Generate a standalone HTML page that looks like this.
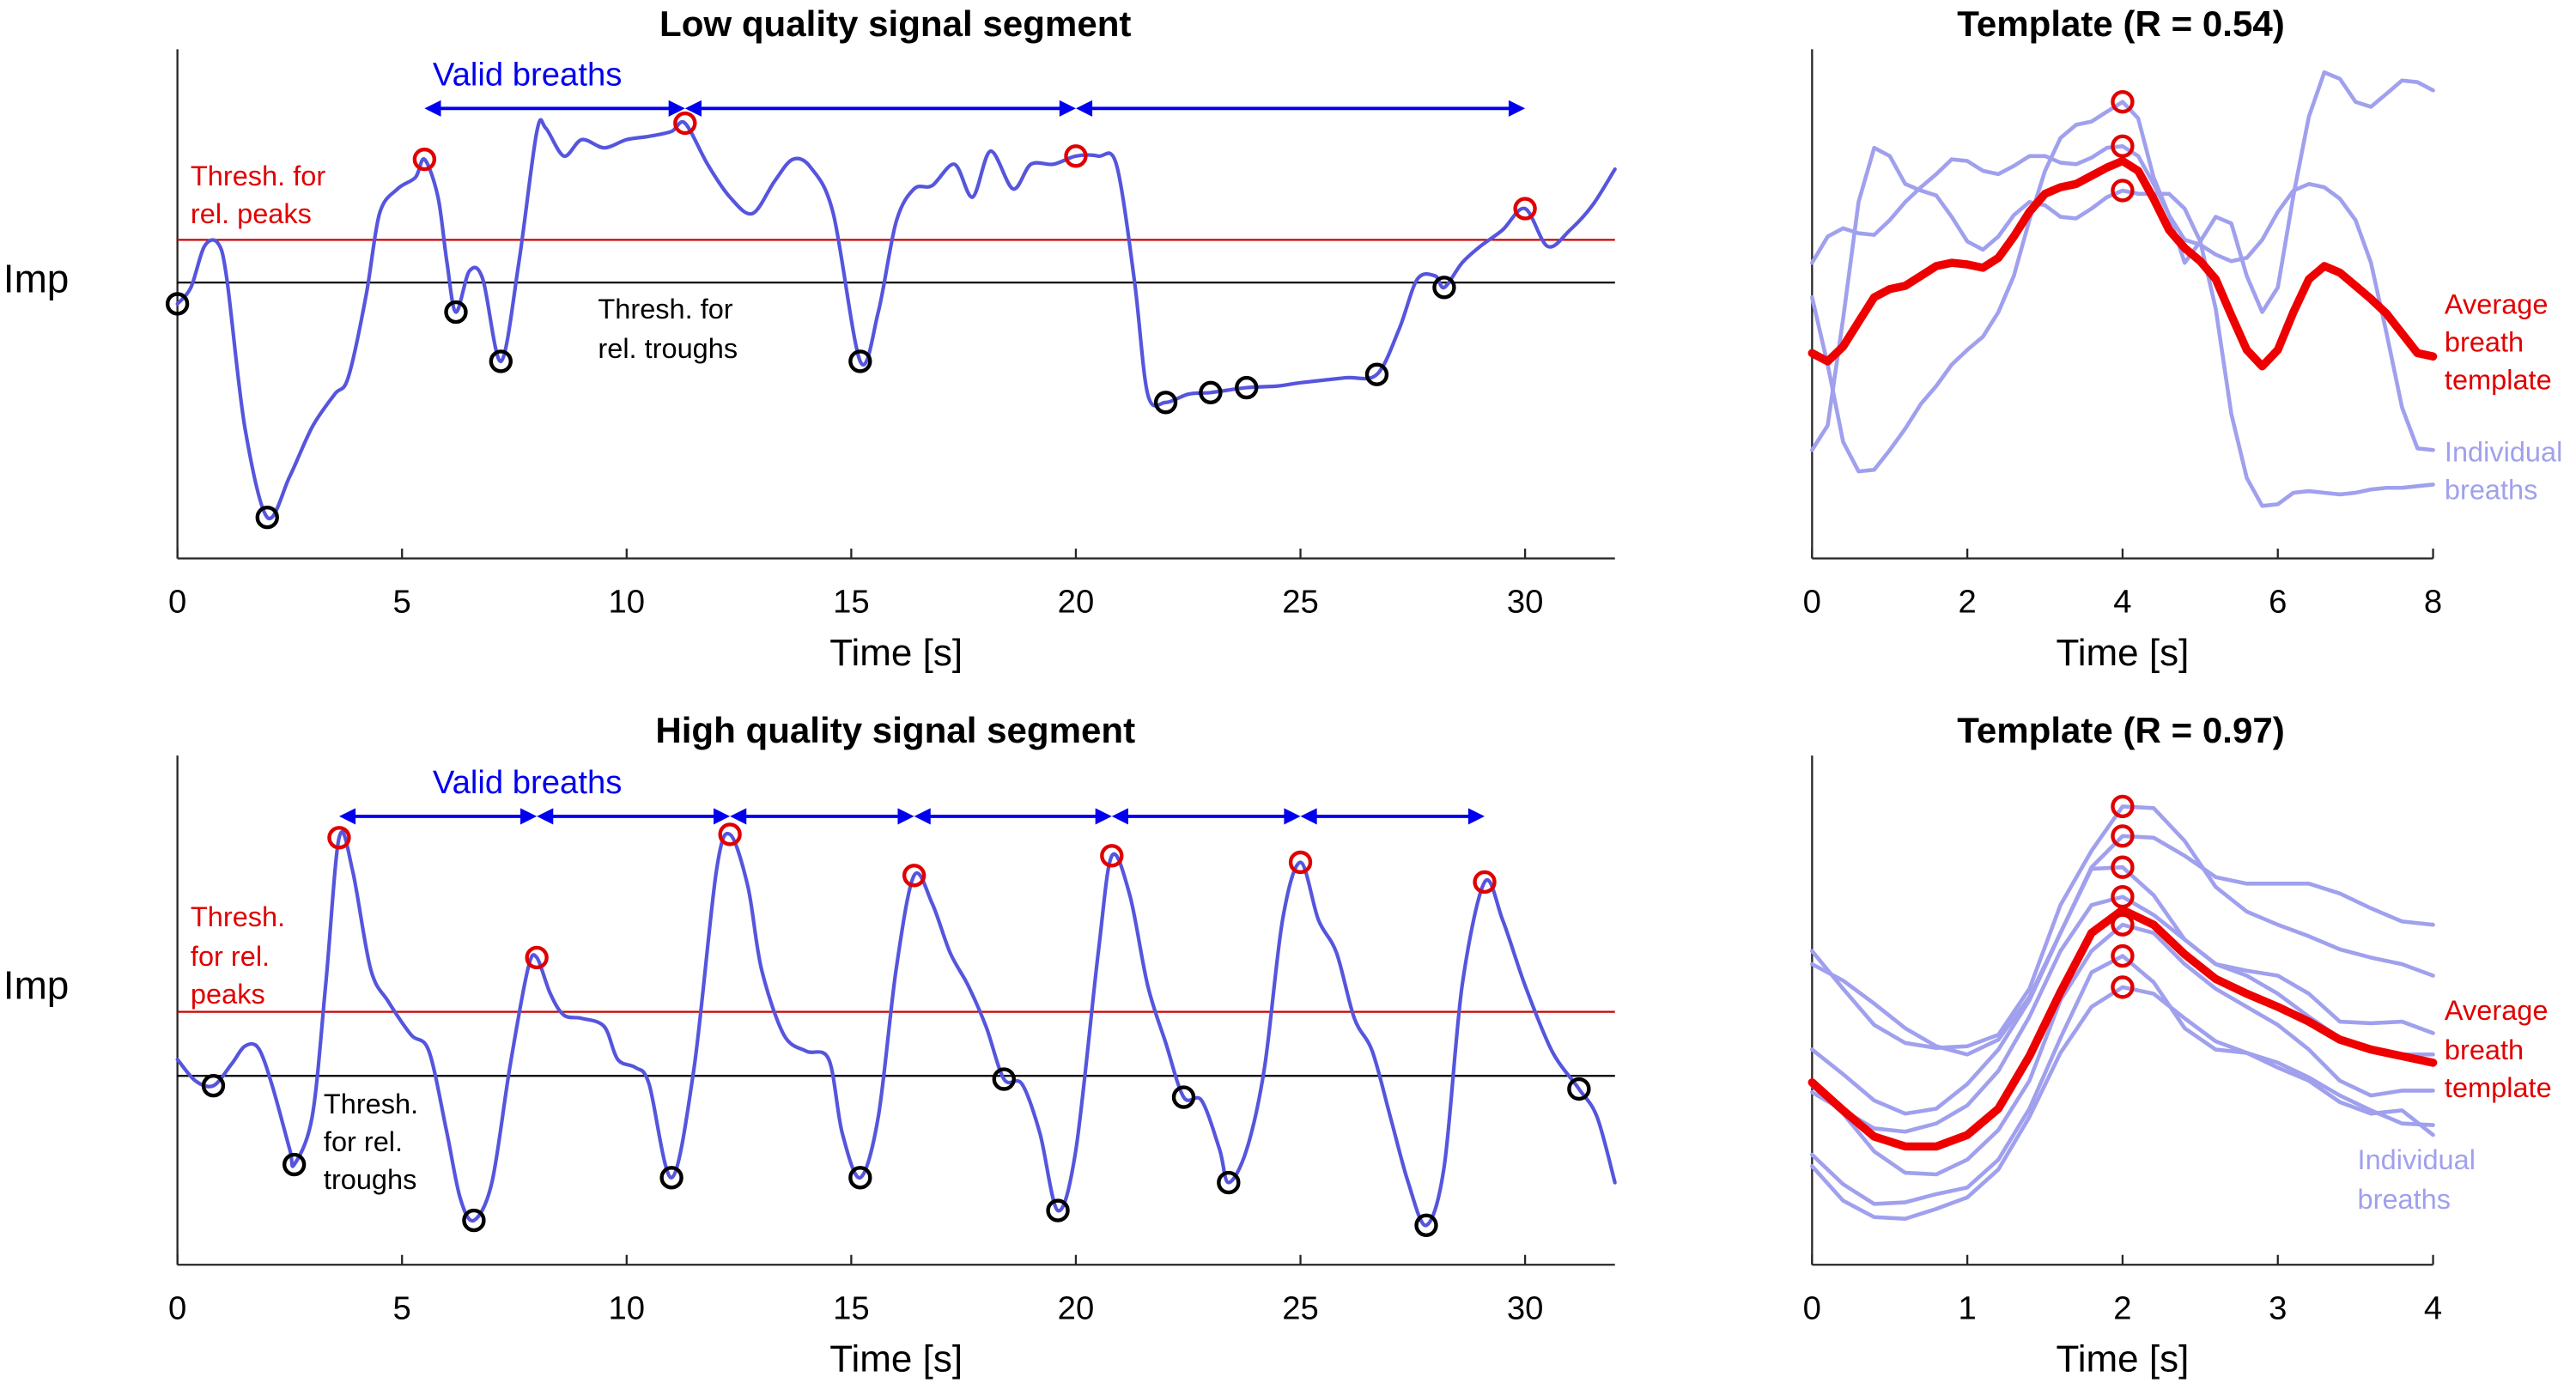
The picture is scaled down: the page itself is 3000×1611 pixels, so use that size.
<!DOCTYPE html>
<html><head><meta charset="utf-8">
<style>
html,body{margin:0;padding:0;background:#fff;}
svg{display:block;font-family:"Liberation Sans",Arial,sans-serif;}
</style></head>
<body>
<svg id="fig" width="3000" height="1611" viewBox="0 0 1568 842" xmlns="http://www.w3.org/2000/svg"></svg>
<script>
// ---------- DATA ----------
const lowT=[0,.3,.6,.9,1.1,1.5,2,2.5,3,3.5,3.8,4.2,4.5,4.9,5.3,5.5,5.8,6,6.2,6.5,6.8,7.2,7.6,8,8.2,8.6,9,9.5,10,10.5,11,11.3,11.8,12.3,12.8,13.3,13.7,14.1,14.6,15.2,15.6,16,16.4,16.8,17.3,17.7,18.1,18.6,19,19.5,20,20.5,20.9,21.3,21.6,22,22.5,23,23.8,24.5,25,26,26.7,27.2,27.6,28,28.2,28.6,29,29.5,30,30.5,31,31.5,32];
const lowV=[155,165,190,192,170,80,25,50,80,100,110,160,210,225,232,243,220,180,150,175,170,120,180,260,262,245,255,250,255,257,260,265,240,220,210,230,243,238,210,120,150,205,225,227,240,220,248,225,240,240,245,245,240,170,100,95,100,101,104,105,107,110,112,140,170,172,165,180,190,200,213,190,200,215,237];
const lowPeakT=[5.5,11.3,20,30];
const lowTroughT=[0,2,6.2,7.2,15.2,22,23,23.8,26.7,28.2];
const lowThrPeak=194, lowThrTrough=168;

const highT=[0,.4,.8,1.2,1.5,1.8,2.1,2.5,2.6,3,3.3,3.6,3.9,4.3,4.7,5.2,5.6,6,6.3,6.6,7,7.4,7.8,8,8.3,8.6,9,9.5,9.8,10.2,10.5,11,11.5,12,12.3,12.7,13,13.5,14,14.5,14.8,15.2,15.6,16,16.4,16.8,17.2,17.6,18,18.4,18.8,19.2,19.6,20,20.5,20.8,21.2,21.6,22,22.4,22.8,23.2,23.4,23.8,24.2,24.6,25,25.4,25.8,26.2,26.6,27,27.4,27.8,28.2,28.6,29.1,29.5,30,30.6,31.2,31.6,32];
const highV=[125,112,109,122,133,132,110,70,61,90,170,260,240,180,160,140,130,80,40,27,50,120,180,187,165,152,150,145,125,120,110,53,120,240,262,230,180,140,130,125,80,53,90,180,237,220,190,170,145,113,110,80,33,70,190,249,225,170,135,102,100,70,50,70,120,210,245,210,190,150,130,90,50,24,60,170,233,210,170,130,107,90,50];
const highPeakT=[3.6,8,12.3,16.4,20.8,25,29.1];
const highTroughT=[.8,2.6,6.6,11,15.2,18.4,19.6,22.4,23.4,27.8,31.2];
const highThrPeak=154, highThrTrough=115;

// Template, low quality (0..8 s, step 0.2)
const tplLowT=[0,.2,.4,.6,.8,1,1.2,1.4,1.6,1.8,2,2.2,2.4,2.6,2.8,3,3.2,3.4,3.6,3.8,4,4.2,4.4,4.6,4.8,5,5.2,5.4,5.6,5.8,6,6.2,6.4,6.6,6.8,7,7.2,7.4,7.6,7.8,8];
const tplLowAvg=[125,120,129,144,159,164,166,172,178,180,179,177,183,196,211,222,226,228,233,238,242,236,219,200,189,181,170,148,127,117,127,150,170,178,174,166,158,149,137,125,123];
const tplLowP=[159,118,71,53,54,66,79,94,105,118,127,135,150,172,206,236,256,264,266,272,278,268,232,209,180,193,208,204,172,150,165,221,269,296,292,278,275,283,291,290,285];
const tplLowQ=[66,81,146,217,250,245,228,224,221,208,193,188,196,209,217,215,208,207,213,220,224,222,222,222,213,193,152,88,49,32,33,40,41,40,39,40,42,43,43,44,45];
const tplLowR=[180,196,201,198,197,206,217,226,234,243,242,236,234,239,245,245,241,240,244,250,251,245,228,209,194,191,185,181,183,194,211,224,228,226,219,206,180,137,92,67,66];
const tplLowPeakT=4;

// Template, high quality (0..4 s, step 0.2)
const tplHighT=[0,.2,.4,.6,.8,1,1.2,1.4,1.6,1.8,2,2.2,2.4,2.6,2.8,3,3.2,3.4,3.6,3.8,4];
const tplHighAvg=[111,94,78,72,72,79,95,127,166,202,216,207,189,174,165,157,148,137,131,127,123];
const tplHigh1=[191,168,146,135,132,133,140,168,219,252,279,278,258,230,215,207,200,192,187,183,176];
const tplHigh2=[183,173,159,144,133,128,137,163,202,242,261,260,249,236,232,232,232,226,217,209,207];
const tplHigh3=[131,116,100,92,95,110,131,161,202,241,242,225,198,183,179,176,165,148,147,148,141];
const tplHigh4=[105,94,83,81,86,97,118,151,191,219,224,213,198,183,176,165,151,138,131,128,128];
const tplHigh5=[109,92,69,56,55,64,82,112,161,191,207,202,183,168,157,146,131,112,103,106,106];
const tplHigh6=[67,49,37,38,43,47,64,95,138,178,188,172,144,131,129,123,114,103,94,86,85];
const tplHigh7=[60,39,29,28,34,41,58,90,129,157,169,165,150,136,129,120,112,99,92,94,79];
const tplHighPeakT=2;

const xTicksMain=[0,5,10,15,20,25,30];
const xTicksTplLow=[0,2,4,6,8];
const xTicksTplHigh=[0,1,2,3,4];

// ---------- DRAW ----------
const NS="http://www.w3.org/2000/svg";
const svg=document.getElementById('fig');
function mk(tag,attrs,parent){const e=document.createElementNS(NS,tag);for(const k in attrs)e.setAttribute(k,attrs[k]);(parent||svg).appendChild(e);return e;}
function lin(d0,d1,r0,r1){return v=>r0+(v-d0)*(r1-r0)/(d1-d0);}
function valAt(T,V,t){for(let i=0;i<T.length-1;i++){if(t>=T[i]&&t<=T[i+1]){const f=(t-T[i])/(T[i+1]-T[i]);return V[i]+f*(V[i+1]-V[i]);}}return V[V.length-1];}
function txt(x,y,s,size,opt){opt=opt||{};const e=mk('text',{x:x,y:y,'font-size':size,fill:opt.fill||'#000','text-anchor':opt.anchor||'middle','font-weight':opt.bold?'bold':'normal'});e.textContent=s;return e;}

function axes(x0,x1,y0,y1,ticks,xs,name){
  const g=mk('g',{});
  
  
  mk('line',{x1:x0,y1:y0,x2:x0,y2:y1,stroke:'#262626','stroke-width':1.2},g);
  mk('line',{x1:x0,y1:y1,x2:x1,y2:y1,stroke:'#262626','stroke-width':1.2},g);
  ticks.forEach(t=>{const x=xs(t);mk('line',{x1:x,y1:y1,x2:x,y2:y1-6,stroke:'#262626','stroke-width':1.2},g);
    const l=txt(x,y1+33,String(t),20);
    
    });
  const xt=txt((x0+x1)/2,y1+65,'Time [s]',23);
  
  
}
function path(T,V,xs,ys,color,w,name,smooth){
  const P=T.map((t,i)=>[xs(t),ys(V[i])]);
  let d='M'+P[0][0].toFixed(1)+','+P[0][1].toFixed(1);
  for(let i=0;i<P.length-1;i++){
    if(smooth){
      const p0=P[Math.max(0,i-1)],p1=P[i],p2=P[i+1],p3=P[Math.min(P.length-1,i+2)];
      const k=0.16;
      const c1=[p1[0]+(p2[0]-p0[0])*k,p1[1]+(p2[1]-p0[1])*k];
      const c2=[p2[0]-(p3[0]-p1[0])*k,p2[1]-(p3[1]-p1[1])*k];
      d+='C'+c1[0].toFixed(1)+','+c1[1].toFixed(1)+' '+c2[0].toFixed(1)+','+c2[1].toFixed(1)+' '+p2[0].toFixed(1)+','+p2[1].toFixed(1);
    } else d+='L'+P[i+1][0].toFixed(1)+','+P[i+1][1].toFixed(1);
  }
  const p=mk('path',{d:d,fill:'none',stroke:color,'stroke-width':w,'stroke-linejoin':'round','stroke-linecap':'round'});
  
  
  return p;
}
function circ(x,y,color,name){const c=mk('circle',{cx:x,cy:y,r:6,fill:'none',stroke:color,'stroke-width':2.3});
  
  }
function arrow(xa,xb,y){const g=mk('g',{});
  
  
  const c='#0000ee';
  mk('line',{x1:xa+2,y1:y,x2:xb-2,y2:y,stroke:c,'stroke-width':2},g);
  mk('path',{d:`M${xa},${y}l10,-5v10z`,fill:c},g);
  mk('path',{d:`M${xb},${y}l-10,-5v10z`,fill:c},g);}

function signalPanel(o){
  const xs=lin(0,32,108,983), ys=lin(0,310,o.yb,o.yb-310);
  const ti=txt(545,o.yb-318,o.title,22,{bold:true});
  
  
  axes(108,983,o.yb-310,o.yb,xTicksMain,xs,o.name);
  const im=txt(22,o.yb-162,'Imp',24);
  
  
  const tr=mk('line',{x1:108,x2:983,y1:ys(o.thrP),y2:ys(o.thrP),stroke:'#cc0000','stroke-width':1.2});
  
  
  const tb=mk('line',{x1:108,x2:983,y1:ys(o.thrT),y2:ys(o.thrT),stroke:'#000','stroke-width':1.2});
  
  
  path(o.T,o.V,xs,ys,'#5555dd',2.2,o.name+'-signal-line',true);
  o.troughs.forEach(t=>circ(xs(t),ys(valAt(o.T,o.V,t)),'#000','trough-marker'));
  o.peaks.forEach(t=>circ(xs(t),ys(valAt(o.T,o.V,t)),'#e00000','peak-marker'));
  for(let i=0;i<o.peaks.length-1;i++)arrow(xs(o.peaks[i]),xs(o.peaks[i+1]),o.arrowY);
  const vb=txt(321,o.arrowY-14,'Valid breaths',20,{fill:'#0000ee'});
  
  
}

signalPanel({name:'low-quality',title:'Low quality signal segment',yb:340,T:lowT,V:lowV,peaks:lowPeakT,troughs:lowTroughT,thrP:lowThrPeak,thrT:lowThrTrough,arrowY:66});
let e;
e=txt(116,113,'Thresh. for',17,{fill:'#e00000',anchor:'start'});
e=txt(116,136,'rel. peaks',17,{fill:'#e00000',anchor:'start'});
e=txt(364,194,'Thresh. for',17,{anchor:'start'});
e=txt(364,218,'rel. troughs',17,{anchor:'start'});

signalPanel({name:'high-quality',title:'High quality signal segment',yb:770,T:highT,V:highV,peaks:highPeakT,troughs:highTroughT,thrP:highThrPeak,thrT:highThrTrough,arrowY:497});
[['Thresh.',564],['for rel.',588],['peaks',611]].forEach(a=>{e=txt(116,a[1],a[0],17,{fill:'#e00000',anchor:'start'});});
[['Thresh.',678],['for rel.',701],['troughs',724]].forEach(a=>{e=txt(197,a[1],a[0],17,{anchor:'start'});});

function templatePanel(o){
  const xs=lin(0,o.tmax,1103,1481), ys=lin(0,310,o.yb,o.yb-310);
  const ti=txt(1291,o.yb-318,o.title,22,{bold:true});
  
  
  axes(1103,1481,o.yb-310,o.yb,o.ticks,xs,o.name);
  o.ind.forEach(V=>path(o.T,V,xs,ys,'#a0a0ee',2.4,'individual-breath-line',false));
  path(o.T,o.avg,xs,ys,'#ee0000',5,'average-template-line',false);
  o.ind.forEach(V=>circ(xs(o.pk),ys(valAt(o.T,V,o.pk)),'#e00000','template-peak-marker'));
}
templatePanel({name:'template-low',title:'Template (R = 0.54)',yb:340,tmax:8,ticks:xTicksTplLow,T:tplLowT,avg:tplLowAvg,ind:[tplLowP,tplLowQ,tplLowR],pk:tplLowPeakT});
[['Average',191],['breath',214],['template',237]].forEach(a=>{e=txt(1488,a[1],a[0],17,{fill:'#e00000',anchor:'start'});});
[['Individual',281],['breaths',304]].forEach(a=>{e=txt(1488,a[1],a[0],17,{fill:'#a0a0ee',anchor:'start'});});

templatePanel({name:'template-high',title:'Template (R = 0.97)',yb:770,tmax:4,ticks:xTicksTplHigh,T:tplHighT,avg:tplHighAvg,ind:[tplHigh1,tplHigh2,tplHigh3,tplHigh4,tplHigh5,tplHigh6,tplHigh7],pk:tplHighPeakT});
[['Average',621],['breath',645],['template',668]].forEach(a=>{e=txt(1488,a[1],a[0],17,{fill:'#e00000',anchor:'start'});});
[['Individual',712],['breaths',736]].forEach(a=>{e=txt(1435,a[1],a[0],17,{fill:'#a0a0ee',anchor:'start'});});
</script>
</body></html>
